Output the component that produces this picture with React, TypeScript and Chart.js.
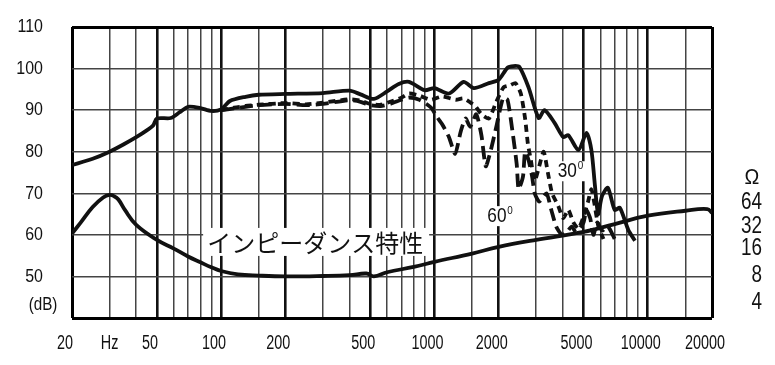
import React, { useEffect, useRef } from "react";
import { Chart, registerables } from "chart.js";

Chart.register(...registerables);

// ---- axes / grid ----
const gridFreqs = [20, 30, 40, 50, 60, 70, 80, 90, 100, 150, 200, 300, 400, 500, 600, 700, 800, 900, 1000, 1500, 2000, 3000, 4000, 5000, 6000, 7000, 8000, 9000, 10000, 15000, 20000];
const majorFreqs = [50, 100, 200, 500, 1000, 2000, 5000, 10000];
const xTickValues = [20, 30, 50, 100, 200, 500, 1000, 2000, 5000, 10000, 20000];
const xTickLabels = ["20", "Hz", "50", "100", "200", "500", "1000", "2000", "5000", "10000", "20000"];
const yTickValues = [110, 100, 90, 80, 70, 60, 50];
const yTickLabels = ["110", "100", "90", "80", "70", "60", "50"];
const yUnitLabel = "(dB)";
const yUnitPos = 43.1;
const ohmLabels = ["Ω", "64", "32", "16", "8", "4"];
const ohmPositions = [73.7, 67.7, 61.9, 56.8, 50.3, 43.8];

// ---- 0° on-axis response (solid) ----
const freq0 = [20, 25, 30, 35, 40, 45, 48, 50, 58, 64, 70, 80, 90, 100, 110, 130, 150, 200, 300, 400, 450, 520, 600, 680, 760, 900, 1000, 1170, 1370, 1530, 1800, 2000, 2200, 2350, 2500, 2760, 3080, 3280, 3650, 4020, 4240, 4730, 5160, 5440, 5650, 5850, 6100, 6500, 7000, 7400, 8100, 8700];
const resp0 = [76.8, 78.3, 80, 81.8, 83.5, 85.2, 86.3, 88, 88.1, 89.5, 90.8, 90.5, 89.8, 90.2, 92.2, 93.2, 93.7, 93.9, 94.1, 94.7, 93.8, 92.7, 94.5, 96.3, 96.8, 94.8, 95.3, 94, 96.8, 95.3, 96.5, 97.3, 100.2, 100.6, 100.4, 95.5, 88.1, 90, 87, 83.5, 84, 80.4, 84.5, 80.4, 72, 65, 69.3, 71.3, 66, 66.5, 61.2, 58.6];

// ---- 30° response (short dashes) ----
const freq30 = [100, 115, 130, 150, 200, 250, 300, 400, 450, 500, 560, 620, 700, 760, 850, 960, 1090, 1260, 1370, 1550, 1660, 1800, 1950, 2110, 2270, 2400, 2540, 2660, 2740, 2830, 2950, 3080, 3250, 3400, 3560, 3800, 4020, 4240, 4480, 4730, 4970, 5250, 5440, 5600, 5870, 6200];
const resp30 = [90, 90.6, 91, 91.3, 91.7, 91.4, 91.8, 92.6, 92.3, 91.5, 91.3, 92, 93, 94, 93.5, 92.5, 93.3, 92.5, 92.8, 91, 89, 88, 92, 95.5, 96, 96.5, 94, 88, 82, 78, 73, 76, 80, 75, 70, 67, 64, 66, 63, 61.5, 64, 68, 71, 68, 62, 59];

// ---- 60° response (long dashes) ----
const freq60 = [100, 115, 130, 150, 200, 250, 300, 400, 450, 500, 560, 620, 700, 760, 850, 960, 1030, 1090, 1170, 1250, 1330, 1400, 1470, 1570, 1660, 1740, 1830, 1950, 2100, 2200, 2320, 2430, 2480, 2600, 2660, 2760, 2870, 2950, 3100, 3350, 3530, 3720, 3950, 4150, 4400, 4620, 5000, 5150, 5370, 5560, 5800, 6100, 6500, 7000];
const resp60 = [90, 90.4, 90.8, 91.2, 91.5, 91.2, 91.5, 92.4, 92, 91.2, 91, 91.5, 92.5, 93, 92.5, 90.7, 88.3, 86.5, 83.5, 79.5, 85, 88, 86, 89, 84, 76.5, 80, 86, 93, 92.5, 85, 77, 71, 74, 80, 78, 74, 70, 68, 70, 66, 62, 60, 60.5, 62, 60.5, 63, 66, 64, 60, 63, 61, 62, 59];

// ---- impedance curve (plotted on the dB grid) ----
const freqImp = [20, 22, 25, 28, 30, 31.5, 33, 35.4, 40, 50, 60, 70, 80, 90, 100, 120, 150, 200, 300, 400, 480, 520, 600, 800, 1000, 1500, 2000, 3000, 5000, 7000, 10000, 15000, 19000, 20000];
const impedance = [60.3, 63, 66.7, 69, 69.6, 69.3, 68.5, 66, 62.4, 58.8, 56.7, 54.8, 53.4, 52.2, 51.3, 50.5, 50.2, 50, 50.1, 50.3, 50.7, 50, 51, 52.3, 53.5, 55.5, 57.1, 58.8, 60.7, 62.6, 64.6, 65.8, 66.2, 65.3];

// ---- annotations ----
const impTitle = "インピーダンス特性";
const impTitlePos = { f: 86, db: 58.3 };
const angleLabels = ["30", "60"];
const angleLabelPos = [{ f: 3780, db: 75.3 }, { f: 1770, db: 64.5 }];
const degreeMark = "0";

const pts = (fs: number[], vs: number[]) => fs.map((f, i) => ({ x: f, y: vs[i] }));

const FONT = '"Liberation Sans", Arial, sans-serif';

function txt(ctx: CanvasRenderingContext2D, s: string, x: number, y: number, size: number, sx: number, align: CanvasTextAlign) {
  ctx.save();
  ctx.translate(x, y);
  ctx.scale(sx, 1);
  ctx.font = `${size}px ${FONT}`;
  ctx.textAlign = align;
  ctx.textBaseline = "middle";
  ctx.fillStyle = "#111";
  ctx.fillText(s, 0, 0);
  ctx.restore();
}

const labelPlugin = {
  id: "labels",
  beforeDatasetsDraw(chart: any) {
    const ctx: CanvasRenderingContext2D = chart.ctx;
    const xs = chart.scales.x;
    const ys = chart.scales.y;
    // impedance title with white box
    ctx.save();
    ctx.font = `24px "Noto Sans CJK JP", sans-serif`;
    const tx = xs.getPixelForValue(impTitlePos.f);
    const ty = ys.getPixelForValue(impTitlePos.db);
    const w = ctx.measureText(impTitle).width;
    ctx.fillStyle = "#fff";
    ctx.fillRect(tx - 4, ty - 14, w + 10, 28);
    ctx.fillStyle = "#111";
    ctx.textBaseline = "middle";
    ctx.textAlign = "left";
    ctx.fillText(impTitle, tx, ty + 1);
    ctx.restore();
    // angle labels
    angleLabels.forEach((s, i) => {
      const x = xs.getPixelForValue(angleLabelPos[i].f);
      const y = ys.getPixelForValue(angleLabelPos[i].db);
      ctx.save();
      ctx.fillStyle = "#fff";
      ctx.fillRect(x - 2, y - 10, 31, 20);
      ctx.restore();
      txt(ctx, s, x, y, 21, 0.82, "left");
      txt(ctx, degreeMark, x + 20, y - 5, 11, 0.9, "left");
    });
  },
  afterDraw(chart: any) {
    const ctx: CanvasRenderingContext2D = chart.ctx;
    const xs = chart.scales.x;
    const ys = chart.scales.y;
    yTickValues.forEach((v, i) => {
      txt(ctx, yTickLabels[i], 43, ys.getPixelForValue(v), 19, 0.84, "right");
    });
    txt(ctx, yUnitLabel, 43, ys.getPixelForValue(yUnitPos), 19, 0.8, "center");
    xTickValues.forEach((v, i) => {
      const off = xTickLabels[i] === "Hz" ? 0 : -7;
      txt(ctx, xTickLabels[i], xs.getPixelForValue(v) + off, 343, 20, 0.72, "center");
    });
    ohmLabels.forEach((s, i) => {
      const y = ys.getPixelForValue(ohmPositions[i]);
      if (i === 0) txt(ctx, s, 752, y, 22, 0.9, "center");
      else txt(ctx, s, 762, y, 23, 0.82, "right");
    });
  },
};

export default function App() {
  const ref = useRef<HTMLCanvasElement | null>(null);
  useEffect(() => {
    document.body.style.margin = "0";
    const canvas = ref.current!;
    const chart = new Chart(canvas, {
      type: "line",
      data: {
        datasets: [
          { label: "0°", data: pts(freq0, resp0), borderColor: "#111", borderWidth: 3.8, pointRadius: 0, tension: 0.25, fill: false },
          { label: "30°", data: pts(freq30, resp30), borderColor: "#111", borderWidth: 3.8, borderDash: [7, 5], pointRadius: 0, tension: 0.2, fill: false },
          { label: "60°", data: pts(freq60, resp60), borderColor: "#111", borderWidth: 3.8, borderDash: [13, 6], pointRadius: 0, tension: 0.2, fill: false },
          { label: "Impedance", data: pts(freqImp, impedance), borderColor: "#111", borderWidth: 3.8, pointRadius: 0, tension: 0.4, fill: false },
        ],
      },
      options: {
        responsive: false,
        animation: false,
        parsing: false as any,
        layout: { padding: { left: 72, top: 27, right: 63, bottom: 47 } },
        plugins: { legend: { display: false }, tooltip: { enabled: false } },
        scales: {
          x: {
            type: "logarithmic",
            min: 20,
            max: 20000,
            afterBuildTicks: (s: any) => {
              s.ticks = gridFreqs.map((v) => ({ value: v }));
            },
            ticks: { display: false },
            border: { display: false },
            grid: {
              drawTicks: false,
              color: (c: any) => {
                const v = c.tick?.value;
                if (v === 20 || v === 20000) return "#000";
                return majorFreqs.includes(v) ? "#111" : "#444";
              },
              lineWidth: (c: any) => {
                const v = c.tick?.value;
                if (v === 20 || v === 20000) return 3;
                return majorFreqs.includes(v) ? 2.6 : 1.5;
              },
            },
          },
          y: {
            type: "linear",
            min: 40,
            max: 110,
            afterBuildTicks: (s: any) => {
              s.ticks = [40, 50, 60, 70, 80, 90, 100, 110].map((v) => ({ value: v }));
            },
            ticks: { display: false },
            border: { display: false },
            grid: {
              drawTicks: false,
              color: (c: any) => {
                const v = c.tick?.value;
                return v === 40 || v === 110 ? "#000" : "#444";
              },
              lineWidth: (c: any) => {
                const v = c.tick?.value;
                return v === 40 || v === 110 ? 3 : 1.5;
              },
            },
          },
        },
      },
      plugins: [labelPlugin],
    });
    return () => chart.destroy();
  }, []);
  return <canvas ref={ref} width={775} height={365} style={{ display: "block" }} />;
}
